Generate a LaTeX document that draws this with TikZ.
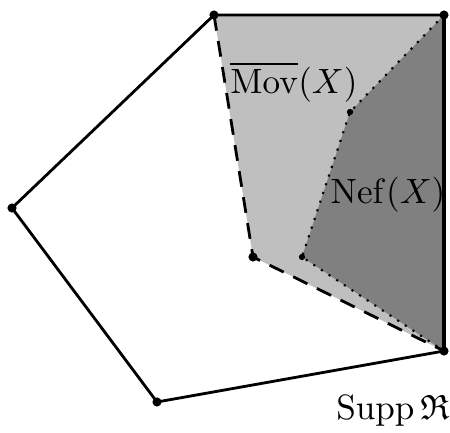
\documentclass[tikz,border=0pt]{standalone}
\usepackage{amsmath,amssymb}

\definecolor{movgray}{RGB}{191, 191, 191}
\definecolor{nefgray}{RGB}{128, 128, 128}

\begin{document}
\begin{tikzpicture}[dot/.style={fill=black}]
        \useasboundingbox (0,0) rectangle (4.5,4.33);
        \coordinate (A) at (2.14, 4.18);
        \coordinate (B) at (4.44, 4.18);
        \coordinate (C) at (4.44, 0.82);
        \coordinate (D) at (1.57, 0.31);
        \coordinate (E) at (0.12, 2.25);
        \coordinate (F) at (2.53, 1.76);
        \coordinate (G) at (3.02, 1.76);
        \coordinate (H) at (3.50, 3.21);
        \fill[movgray] (A) -- (B) -- (C) -- (F) -- cycle;
        \fill[nefgray] (B) -- (H) -- (G) -- (C) -- cycle;
        \draw[semithick, dotted] (B) -- (H) -- (G) -- (C);
        \draw[thick, dash pattern=on 4.5pt off 3pt] (A) -- (F) -- (C);
        \draw[thick] (B) -- (A) -- (E) -- (D) -- (C);
        \draw[very thick] (B) -- (C);
        \foreach \p in {A,B,C,D,E,F}
          \fill[dot] (\p) circle (1.3pt);
        \foreach \p in {G,H}
          \fill[dot] (\p) circle (0.9pt);
        \node (mov) at (2.94, 3.51) {$\overline{\mathrm{Mov}}(X)$};
        \node (nef) at (3.88, 2.38) {$\mathrm{Nef}(X)$};
        \node (supp) at (3.93, 0.22) {$\operatorname{Supp}\mathfrak{R}$};
      \end{tikzpicture}
\end{document}
